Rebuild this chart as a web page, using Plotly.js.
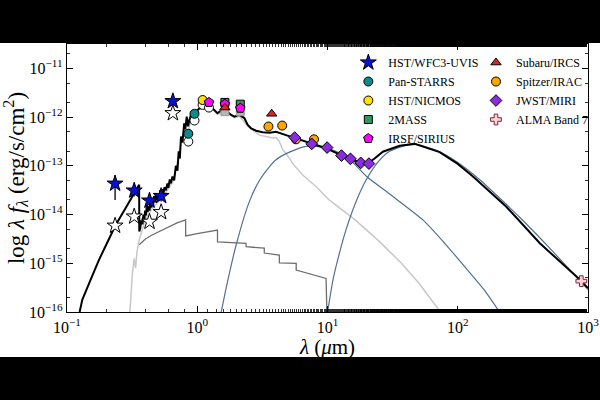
<!DOCTYPE html>
<html><head><meta charset="utf-8">
<script src="https://cdn.plot.ly/plotly-3.0.1.min.js"></script>
<style>
html,body{margin:0;padding:0;background:#000;width:600px;height:400px;overflow:hidden}
#chart{position:absolute;left:0;top:43px;width:600px;height:340px;background:#fff}
#band{position:absolute;left:0;top:357px;width:600px;height:43px;background:#000;z-index:10}
</style></head><body><div id="chart"></div><div id="band"></div>
<script>
// ---- photometry (wavelength in micron, lambda*F_lambda in erg/s/cm2) ----
const uvisWl = [0.234, 0.328, 0.43, 0.528, 0.65];
const uvisFlux = [4.3e-14, 3.1e-14, 1.93e-14, 2.4e-14, 2.12e-12];
const uvisErrPlus = [2.15e-14, 1.0e-14, 0.5e-14, 0.6e-14, 0];
const uvisErrMinus = [2.3e-14, 0.76e-14, 0.45e-14, 0.55e-14, 0];
const uvisObsFlux = [5.9e-15, 9.1e-15, 7.1e-15, 1.12e-14, 1.2e-12];

const panWl = [0.854, 0.952];
const panFlux = [4.55e-13, 1.17e-12];
const panObsFlux = [3.15e-13, 8.5e-13];

const nicWl = [1.10];
const nicFlux = [2.24e-12];
const nicObsFlux = [1.78e-12];

const tmassWl = [1.63, 2.14];
const tmassFlux = [2.0e-12, 1.84e-12];
const tmassObsFlux = [1.29e-12, 1.29e-12];

const irsfWl = [1.23, 1.63, 2.14];
const irsfFlux = [2.0e-12, 1.84e-12, 1.52e-12];
const irsfObsWl = [1.23];
const irsfObsFlux = [1.57e-12];

const ircsWl = [1.63, 3.73];
const ircsFlux = [1.57e-12, 1.17e-12];

const iracWl = [3.52, 4.49, 5.73, 7.88];
const iracFlux = [6.4e-13, 6.7e-13, 3.5e-13, 3.5e-13];

const miriWl = [5.6, 7.57, 9.93, 12.8, 15.0, 18.0, 20.8];
const miriFlux = [3.8e-13, 2.82e-13, 2.37e-13, 1.62e-13, 1.39e-13, 1.15e-13, 1.11e-13];

const almaWl = [889];
const almaFlux = [4.3e-16];

// ---- model curves (log10 of lambda*F_lambda) ----
const totalWl = [0.125,0.131,0.15,0.176,0.2,0.237,0.28,0.333,0.355,0.358,0.359,0.365,0.372,0.38,0.386,0.392,0.398,0.404,0.41,0.416,0.422,0.43,0.437,0.444,0.451,0.458,0.466,0.474,0.482,0.49,0.5,0.51,0.52,0.53,0.54,0.55,0.56,0.575,0.59,0.6,0.615,0.628,0.645,0.665,0.685,0.705,0.72,0.735,0.75,0.77,0.794,0.81,0.83,0.85,0.87,0.895,0.95,1.04,1.13,1.2,1.31,1.43,1.55,1.66,1.82,1.93,2.10,2.30,2.44,2.59,2.83,3.18,3.58,4.03,4.8,5.57,7.5,9.76,12.7,14.7,17.6,20.4,23,26.6,35.8,46.7,72.6,100,131,236,427,869,1000];
const totalLog = [-16.0,-15.75,-15.37,-14.93,-14.62,-14.21,-13.88,-13.53,-13.42,-13.39,-14.35,-14.28,-14.12,-14.2,-14.0,-14.12,-13.92,-14.02,-13.80,-13.95,-13.82,-13.92,-13.74,-13.86,-13.7,-13.82,-13.62,-13.75,-13.56,-13.7,-13.6,-13.72,-13.5,-13.62,-13.48,-13.58,-13.44,-13.5,-13.36,-13.45,-13.28,-13.36,-13.22,-13.3,-13.0,-13.1,-12.7,-12.85,-12.4,-12.52,-12.13,-12.25,-11.99,-12.19,-12.06,-11.955,-11.92,-11.82,-11.75,-11.76,-11.82,-11.92,-11.85,-11.86,-11.955,-11.99,-11.955,-12.02,-12.16,-12.23,-12.28,-12.31,-12.32,-12.30,-12.37,-12.43,-12.54,-12.64,-12.78,-12.88,-12.91,-12.95,-12.85,-12.71,-12.59,-12.55,-12.72,-12.96,-13.22,-13.84,-14.59,-15.34,-15.51];

const photWl = [0.304,0.318,0.328,0.336,0.345,0.36,0.38,0.4,0.45,0.5,0.55,0.6,0.65,0.7,0.75,0.8,0.85,0.9,1.0,1.13,1.3,1.43,1.66,1.93,2.1,2.44,2.83,3.0,3.8,4.03,4.27,4.53,4.8,5.4,6.45,8.2,10.3,16.3,25,36.9,50,71.8];
const photLog = [-16.0,-15.2,-14.9,-15.1,-14.75,-14.5,-14.3,-14.1,-13.88,-13.74,-13.62,-13.47,-13.33,-12.95,-12.55,-12.3,-12.32,-12.02,-11.88,-11.78,-11.84,-11.94,-11.89,-12.01,-11.98,-12.18,-12.31,-12.37,-12.43,-12.42,-12.50,-12.67,-12.74,-12.95,-13.19,-13.43,-13.70,-14.11,-14.55,-15.0,-15.4,-15.96];

const stepWl = [0.358,0.4,0.45,0.51,0.6,0.646,0.7,0.814,0.815,1.0,1.2,1.43,1.431,2.0,2.37,2.371,3.27,3.271,4.27,4.271,5.75,5.751,9.75,9.9];
const stepLog = [-14.62,-14.5,-14.42,-14.35,-14.26,-14.21,-14.17,-14.11,-14.44,-14.39,-14.35,-14.32,-14.56,-14.57,-14.59,-14.66,-14.69,-14.79,-14.83,-14.99,-15.0,-15.14,-15.31,-16.05];

const warmWl = [1.5,1.7,2.0,2.5,3.0,3.58,4.0,5.1,6.8,8.2,10,12.4,15,20,30,54,80,120,160,212];
const warmLog = [-16.1,-15.4,-14.6,-13.75,-13.3,-13.02,-12.88,-12.72,-12.6,-12.6,-12.64,-12.74,-12.88,-13.22,-13.58,-14.11,-14.6,-15.15,-15.55,-16.02];

const coldWl = [9.95,11,12,14,17,20,25,30,45,70,100,150,200,300,500,700,1000];
const coldLog = [-16.05,-15.35,-14.92,-14.28,-13.66,-13.27,-12.89,-12.70,-12.55,-12.69,-12.93,-13.30,-13.61,-14.06,-14.67,-15.09,-15.54];

const xTickVals = [0.1, 1, 10, 100, 1000];
const xTickText = ['10<sup>−1</sup>','10<sup>0</sup>','10<sup>1</sup>','10<sup>2</sup>','10<sup>3</sup>'];
const yTickVals = [1e-16, 1e-15, 1e-14, 1e-13, 1e-12, 1e-11];
const yTickText = ['10<sup>−16</sup>','10<sup>−15</sup>','10<sup>−14</sup>','10<sup>−13</sup>','10<sup>−12</sup>','10<sup>−11</sup>'];

const lin = a => a.map(v => Math.pow(10, v));
const edge = {color: '#000', width: 1};

const traces = [
  {x: stepWl, y: lin(stepLog), mode: 'lines', line: {color: '#6e6e6e', width: 1.3}, showlegend: false, hoverinfo: 'skip'},
  {x: photWl, y: lin(photLog), mode: 'lines', line: {color: '#c8c8c8', width: 1.5}, showlegend: false, hoverinfo: 'skip'},
  {x: warmWl, y: lin(warmLog), mode: 'lines', line: {color: '#52708f', width: 1.2, shape: 'spline', smoothing: 0.6}, showlegend: false, hoverinfo: 'skip'},
  {x: coldWl, y: lin(coldLog), mode: 'lines', line: {color: '#52708f', width: 1.2, shape: 'spline', smoothing: 0.6}, showlegend: false, hoverinfo: 'skip'},
  {x: totalWl, y: lin(totalLog), mode: 'lines', line: {color: '#000', width: 2}, showlegend: false, hoverinfo: 'skip'},
  // observed (open) markers
  {x: uvisWl, y: uvisObsFlux, mode: 'markers', marker: {symbol: 'star', size: 12, color: '#fff', line: edge}, showlegend: false},
  {x: panWl, y: panObsFlux, mode: 'markers', marker: {symbol: 'circle', size: 9, color: '#fff', line: edge}, showlegend: false},
  {x: nicWl, y: nicObsFlux, mode: 'markers', marker: {symbol: 'circle', size: 9, color: '#fff', line: edge}, showlegend: false},
  {x: irsfObsWl, y: irsfObsFlux, mode: 'markers', marker: {symbol: 'circle', size: 9, color: '#fff', line: edge}, showlegend: false},
  {x: tmassWl, y: tmassObsFlux, mode: 'markers', marker: {symbol: 'square', size: 8, color: '#b4b4b4', line: {color: '#999', width: 1}}, showlegend: false},
  // dereddened markers
  {name: 'HST/WFC3-UVIS', x: uvisWl, y: uvisFlux, mode: 'markers', legend: 'legend',
   error_y: {type: 'data', array: uvisErrPlus, arrayminus: uvisErrMinus, color: '#000', thickness: 1.3, width: 0},
   marker: {symbol: 'star', size: 12, color: '#0a10d0', line: edge}},
  {name: 'Pan-STARRS', x: panWl, y: panFlux, mode: 'markers', legend: 'legend', marker: {symbol: 'circle', size: 9, color: '#0f8a8a', line: edge}},
  {name: 'HST/NICMOS', x: nicWl, y: nicFlux, mode: 'markers', legend: 'legend', marker: {symbol: 'circle', size: 9, color: '#ffe100', line: edge}},
  {name: '2MASS', x: tmassWl, y: tmassFlux, mode: 'markers', legend: 'legend', marker: {symbol: 'square', size: 8, color: '#2e9a5e', line: edge}},
  {name: 'IRSF/SIRIUS', x: irsfWl, y: irsfFlux, mode: 'markers', legend: 'legend', marker: {symbol: 'pentagon', size: 10, color: '#ff00ff', line: edge}},
  {name: 'Subaru/IRCS', x: ircsWl, y: ircsFlux, mode: 'markers', legend: 'legend2', marker: {symbol: 'triangle-up', size: 9, color: '#d62728', line: edge}},
  {name: 'Spitzer/IRAC', x: iracWl, y: iracFlux, mode: 'markers', legend: 'legend2', marker: {symbol: 'circle', size: 9, color: '#ffa500', line: edge}},
  {name: 'JWST/MIRI', x: miriWl, y: miriFlux, mode: 'markers', legend: 'legend2', marker: {symbol: 'diamond', size: 9, color: '#8a2be2', line: edge}},
  {name: 'ALMA Band 7', x: almaWl, y: almaFlux, mode: 'markers', legend: 'legend2', marker: {symbol: 'cross', size: 9, color: '#ffd0d8', line: {color: '#7a2a3a', width: 1}}}
];

const font = {family: 'Liberation Serif, Times New Roman, serif', color: '#000'};
const axisCommon = {
  showline: true, linecolor: '#000', linewidth: 1.3, mirror: 'allticks',
  ticks: 'inside', ticklen: 6, tickwidth: 1, tickcolor: '#000',
  showgrid: false, zeroline: false,
  tickfont: {family: font.family, size: 16, color: '#000'},
  minor: {ticks: 'inside', ticklen: 3, tickwidth: 0.8, tickcolor: '#000', showgrid: false}
};

const layout = {
  width: 600, height: 340,
  margin: {l: 67, r: 12, t: 1, b: 71},
  paper_bgcolor: '#fff', plot_bgcolor: '#fff',
  font: font,
  xaxis: Object.assign({}, axisCommon, {
    type: 'log', range: [-1, 3], tickmode: 'array', tickvals: xTickVals, ticktext: xTickText,
    title: {text: '<i>λ</i> (<i>μ</i>m)', font: {family: font.family, size: 21, color: '#000'}, standoff: 3}
  }),
  yaxis: Object.assign({}, axisCommon, {
    type: 'log', range: [-16, -10.5], tickmode: 'array', tickvals: yTickVals, ticktext: yTickText,
    title: {text: 'log <i>λ f</i><sub><i>λ</i></sub> (erg/s/cm<sup>2</sup>)', font: {family: font.family, size: 23, color: '#000'}, standoff: 4}
  }),
  legend: {x: 0.54, y: 0.985, xanchor: 'left', yanchor: 'top', bgcolor: 'rgba(0,0,0,0)',
           font: {family: font.family, size: 12, color: '#000'}, tracegroupgap: 0, itemwidth: 30},
  legend2: {x: 0.785, y: 0.985, xanchor: 'left', yanchor: 'top', bgcolor: 'rgba(0,0,0,0)',
           font: {family: font.family, size: 12, color: '#000'}, tracegroupgap: 0, itemwidth: 30}
};

Plotly.newPlot('chart', traces, layout, {displayModeBar: false, staticPlot: true});
</script></body></html>
